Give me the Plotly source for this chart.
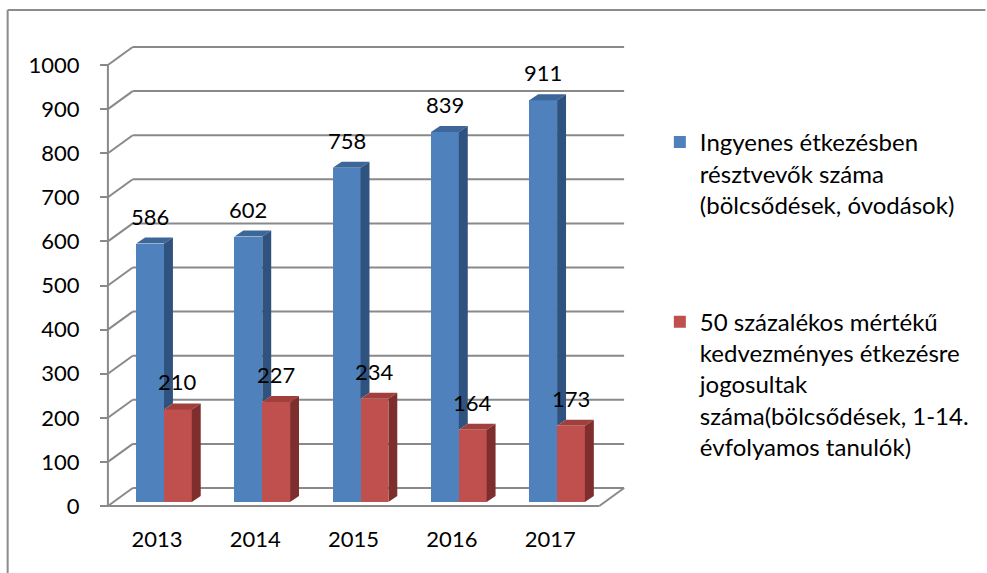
import plotly.graph_objects as go

# ---- data -------------------------------------------------------------
years = ["2013", "2014", "2015", "2016", "2017"]
free_meals = [586, 602, 758, 839, 911]          # Ingyenes étkezésben résztvevők
half_price = [210, 227, 234, 164, 173]          # 50 százalékos kedvezmény
series_names = [
    "Ingyenes étkezésben<br>résztvevők száma<br>(bölcsődések, óvodások)",
    "50 százalékos mértékű<br>kedvezményes étkezésre<br>jogosultak<br>"
    "száma(bölcsődések, 1-14.<br>évfolyamos tanulók)",
]
y_ticks = list(range(0, 1001, 100))

# ---- page / box geometry (pixels) --------------------------------------
W, H = 987, 573
FLOOR_X0, FLOOR_Y0 = 108, 506      # front-left corner of the floor
PX_PER_CAT = 99                    # width of one category slot
PX_PER_UNIT = 0.441                # pixels per value unit
M_L, M_R, M_T, M_B = 96, 344, 32, 24

def to_x(px):
    return -0.5 + (px - FLOOR_X0) / PX_PER_CAT

def to_y(py):
    return (FLOOR_Y0 - py) / PX_PER_UNIT

PLOT_W = W - M_L - M_R
PLOT_H = H - M_T - M_B

def paper_x(px):
    return (px - M_L) / PLOT_W

def paper_y(py):
    return (H - M_B - py) / PLOT_H

x_range = [to_x(M_L), to_x(W - M_R)]
y_range = [to_y(H - M_B), to_y(M_T)]

# depth of the back wall, of the bar row and of a single bar (in data units)
wall_dx, wall_dy = 25 / PX_PER_CAT, 18 / PX_PER_UNIT
row_dx, row_dy = 7 / PX_PER_CAT, 4 / PX_PER_UNIT
bar_dx, bar_dy = 9 / PX_PER_CAT, 6 / PX_PER_UNIT
bar_w = 28 / PX_PER_CAT

GRID = "#898989"
FONT = "Lato"
BLUE = dict(front="#4F81BD", top="#3D6699", side="#30527E")
RED = dict(front="#C0504D", top="#A13F3C", side="#7E2F2D")

fig = go.Figure()

# ---- walls, gridlines and floor -----------------------------------------
shapes = []
def seg(x0, y0, x1, y1, **kw):
    d = dict(type="line", x0=x0, y0=y0, x1=x1, y1=y1, layer="below",
             line=dict(color=GRID, width=2))
    d.update(kw)
    shapes.append(d)

left, right = -0.5, len(years) - 0.5
for v in y_ticks:
    seg(left, v, left + wall_dx, v + wall_dy, xref="x", yref="y")
    seg(left + wall_dx, v + wall_dy, right + wall_dx, v + wall_dy, xref="x", yref="y")
seg(left, 0, left, y_ticks[-1], xref="x", yref="y")
seg(left, 0, right, 0, xref="x", yref="y")
seg(right, 0, right + wall_dx, wall_dy, xref="x", yref="y")

# outer frame of the chart object
seg(paper_x(7), paper_y(10), paper_x(W + 5), paper_y(10), xref="paper", yref="paper",
    line=dict(color="#8C8C8C", width=2))
seg(paper_x(7), paper_y(10), paper_x(7), paper_y(H + 5), xref="paper", yref="paper",
    line=dict(color="#8C8C8C", width=2))

# ---- bars ---------------------------------------------------------------
blue_x = [i + row_dx - bar_w / 2 for i in range(len(years))]
red_x = [i + row_dx + bar_w / 2 for i in range(len(years))]

for xs, vals, col, name in [(blue_x, free_meals, BLUE, series_names[0]),
                            (red_x, half_price, RED, series_names[1])]:
    fig.add_trace(go.Bar(
        x=xs, y=vals, base=row_dy, width=bar_w, name=name,
        legendgroup=name, marker=dict(color=col["front"], line=dict(width=0)),
        hoverinfo="skip",
    ))

def faces(xs, vals, lows):
    top_x, top_y, side_x, side_y = [], [], [], []
    for xc, v, lo in zip(xs, vals, lows):
        x0, x1 = xc - bar_w / 2, xc + bar_w / 2
        t = v + row_dy
        top_x += [x0, x1, x1 + bar_dx, x0 + bar_dx, x0, None]
        top_y += [t, t, t + bar_dy, t + bar_dy, t, None]
        side_x += [x1, x1 + bar_dx, x1 + bar_dx, x1, x1, None]
        side_y += [lo, lo + bar_dy, t + bar_dy, t, lo, None]
    return top_x, top_y, side_x, side_y

# the blue side face is only visible above the red bar standing in front of it
blue_lows = [r + row_dy for r in half_price]
red_lows = [row_dy] * len(years)
for xs, vals, lows, col in [(blue_x, free_meals, blue_lows, BLUE),
                            (red_x, half_price, red_lows, RED)]:
    tx, ty, sx, sy = faces(xs, vals, lows)
    for fx, fy, c in [(tx, ty, col["top"]), (sx, sy, col["side"])]:
        fig.add_trace(go.Scatter(
            x=fx, y=fy, mode="lines", fill="toself", fillcolor=c,
            line=dict(width=0, color=c), showlegend=False, hoverinfo="skip",
        ))

# ---- value labels -------------------------------------------------------
annotations = []
for xs, vals in [(blue_x, free_meals), (red_x, half_price)]:
    for xc, v in zip(xs, vals):
        annotations.append(dict(
            x=xc, y=v + row_dy, xref="x", yref="y", text=str(v),
            showarrow=False, yanchor="middle", yshift=27.5,
            font=dict(family=FONT, size=22, color="black"),
        ))

fig.update_layout(
    width=W, height=H,
    margin=dict(l=M_L, r=M_R, t=M_T, b=M_B, pad=0),
    paper_bgcolor="white", plot_bgcolor="white",
    barmode="overlay", bargap=0,
    shapes=shapes, annotations=annotations,
    font=dict(family=FONT, size=22, color="black"),
    xaxis=dict(
        range=x_range, anchor="free", position=paper_y(FLOOR_Y0),
        tickvals=list(range(len(years))), ticktext=years,
        ticks="", showgrid=False, zeroline=False, showline=False,
        tickfont=dict(family=FONT, size=22, color="black"),
        ticklabelstandoff=18,
    ),
    xaxis2=dict(
        range=x_range, overlaying="x", anchor="free", position=paper_y(FLOOR_Y0),
        tickvals=[i - 0.5 for i in range(len(years) + 1)],
        ticks="outside", ticklen=8, tickwidth=2, tickcolor=GRID,
        showticklabels=False, showgrid=False, zeroline=False, showline=False,
    ),
    yaxis=dict(
        range=y_range, anchor="free", position=paper_x(FLOOR_X0),
        tickvals=y_ticks, ticks="outside", ticklen=8, tickwidth=2, tickcolor=GRID,
        showgrid=False, zeroline=False, showline=False,
        tickfont=dict(family=FONT, size=22, color="black"),
        ticklabelstandoff=16,
    ),
    legend=dict(
        x=paper_x(664), xanchor="left", y=paper_y(120), yanchor="top",
        valign="top", tracegroupgap=83, bgcolor="rgba(0,0,0,0)",
        font=dict(family=FONT, size=24, color="black"),
        traceorder="grouped",
    ),
    showlegend=True,
)

fig.write_html("out.html")
